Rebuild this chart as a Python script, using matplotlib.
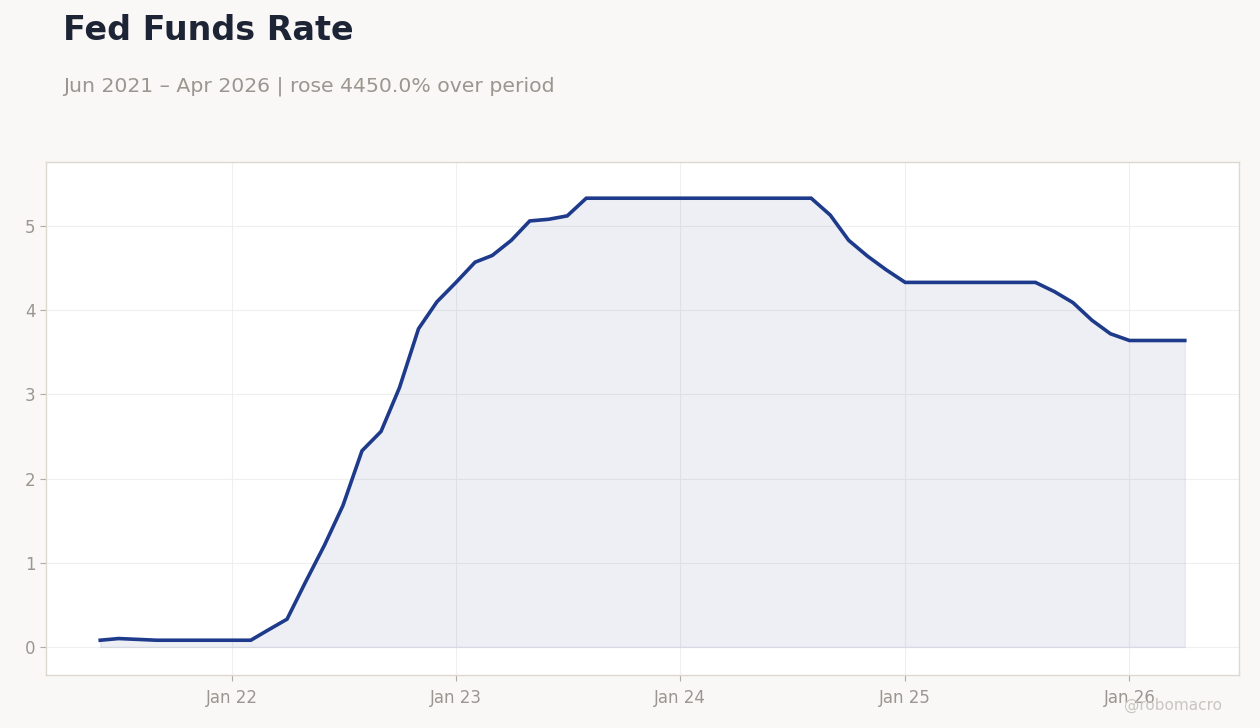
import numpy as np
import pandas as pd
import matplotlib
matplotlib.use('Agg')
import matplotlib.pyplot as plt
import matplotlib.dates as mdates

# --- Data: monthly effective fed funds rate (%) ---
start_month = '2021-06-01'
end_month = '2026-04-01'
rate = [
    0.08, 0.10, 0.09, 0.08, 0.08, 0.08, 0.08,            # Jun-Dec 2021
    0.08, 0.08, 0.20, 0.33, 0.77, 1.21, 1.68, 2.33, 2.56, 3.08, 3.78, 4.10,  # 2022
    4.33, 4.57, 4.65, 4.83, 5.06, 5.08, 5.12, 5.33, 5.33, 5.33, 5.33, 5.33,  # 2023
    5.33, 5.33, 5.33, 5.33, 5.33, 5.33, 5.33, 5.33, 5.13, 4.83, 4.64, 4.48,  # 2024
    4.33, 4.33, 4.33, 4.33, 4.33, 4.33, 4.33, 4.33, 4.22, 4.09, 3.88, 3.72,  # 2025
    3.64, 3.64, 3.64, 3.64,                                # Jan-Apr 2026
]
months = pd.date_range(start_month, end_month, freq='MS')

title = 'Fed Funds Rate'
pct = (rate[-1] - rate[0]) / rate[0] * 100
subtitle = f'Jun 2021 \u2013 Apr 2026 | rose {pct:.1f}% over period'

line_col = '#1e3a8a'
bg = '#f9f8f6'
muted = '#9b9690'

fig = plt.figure(figsize=(12.6, 7.28), dpi=100, facecolor=bg)
ax = fig.add_axes([46 / 1260, 53 / 728, 1193 / 1260, 513 / 728])
ax.set_facecolor('white')

ax.fill_between(months, rate, 0, color=line_col, alpha=0.08, linewidth=1)
ax.plot(months, rate, color=line_col, linewidth=2.6, solid_joinstyle='miter')

ax.set_ylim(-0.333, 5.76)
ax.margins(x=0.05)
ax.set_yticks([0, 1, 2, 3, 4, 5])
ax.xaxis.set_major_locator(mdates.YearLocator())
ax.xaxis.set_major_formatter(mdates.DateFormatter('Jan %y'))

ax.grid(True, color='#efefef', linewidth=0.8)
ax.set_axisbelow(True)
for sp in ax.spines.values():
    sp.set_color('#ddd8d0')
    sp.set_linewidth(1)
ax.tick_params(colors='#b0aba5', labelcolor=muted, labelsize=12, length=4, width=0.8)
ax.tick_params(axis='x', pad=6)

fig.text(63 / 1260, 1 - 31 / 728, title, fontsize=24, fontweight='bold',
         color='#1c2435', va='center', ha='left')
fig.text(63 / 1260, 1 - 86 / 728, subtitle, fontsize=14.7, color=muted,
         va='center', ha='left')
fig.text(1222 / 1260, 1 - 705 / 728, '@robomacro', fontsize=11, color='#c9c6c1',
         va='center', ha='right')

fig.savefig('out.png', dpi=100, facecolor=bg)
